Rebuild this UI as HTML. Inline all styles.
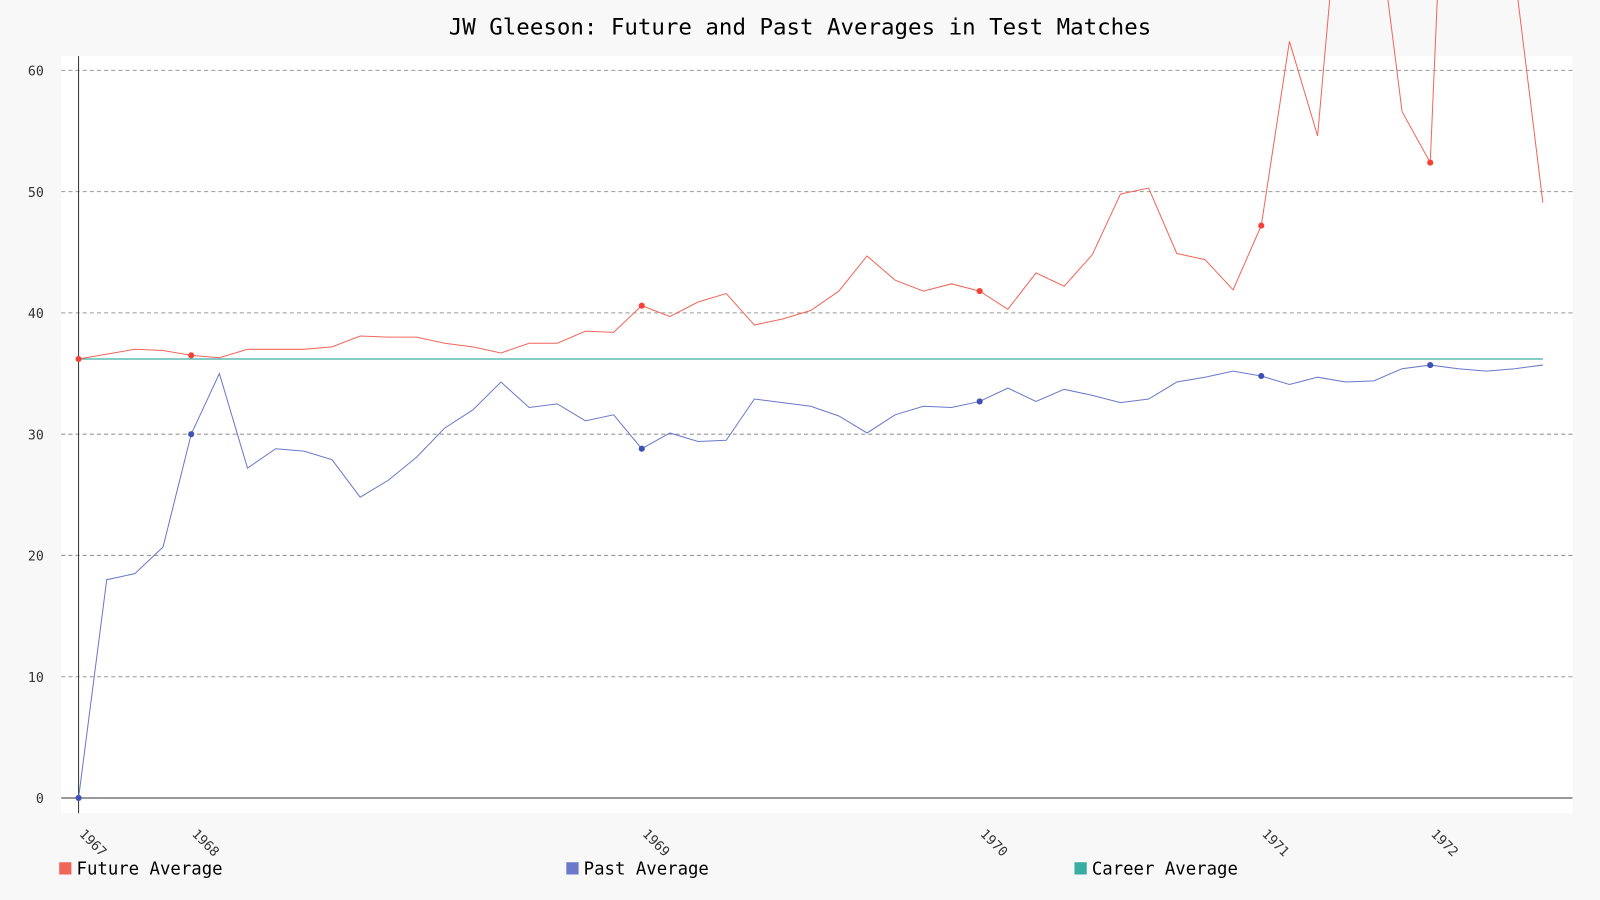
<!DOCTYPE html>
<html><head><meta charset="utf-8"><style>
html,body{margin:0;padding:0;background:#f8f8f8;}
svg{display:block;font-family:"DejaVu Sans Mono","Liberation Mono",monospace;}
</style></head><body>
<svg id="chart" width="1600" height="900" viewBox="0 0 1568 882" preserveAspectRatio="none">
<rect x="0" y="0" width="1568" height="882" fill="#f8f8f8"/>
<text x="784" y="34" text-anchor="middle" font-size="22" fill="#000">JW Gleeson: Future and Past Averages in Test Matches</text>
<rect x="60" y="55" width="1481" height="742" fill="#fff"/>
<g id="grid"></g>
<g id="series"></g>
<g id="legend">
<rect x="58" y="845" width="12" height="12" fill="#f0675a"/>
<text x="75" y="857" font-size="17">Future Average</text>
<rect x="555" y="845" width="12" height="12" fill="#6c78c9"/>
<text x="572" y="857" font-size="17">Past Average</text>
<rect x="1053" y="845" width="12" height="12" fill="#3aada2"/>
<text x="1070" y="857" font-size="17">Career Average</text>
</g>
</svg>
<script>
const yTicks=[0,10,20,30,40,50,60];
const yearLabels=["1967","1968","1969","1970","1971","1972"];
const yearIndex=[0,4,20,32,42,48];
const pastAvg=[0,18.0,18.5,20.7,30.0,35.0,27.2,28.8,28.6,27.9,24.8,26.2,28.1,30.5,32.0,34.3,32.2,32.5,31.1,31.6,28.8,30.1,29.4,29.5,32.9,32.6,32.3,31.5,30.1,31.6,32.3,32.2,32.7,33.8,32.7,33.7,33.2,32.6,32.9,34.3,34.7,35.2,34.8,34.1,34.7,34.3,34.4,35.4,35.7,35.4,35.2,35.4,35.7];
const futureAvg=[36.2,36.6,37.0,36.9,36.5,36.3,37.0,37.0,37.0,37.2,38.1,38.0,38.0,37.5,37.2,36.7,37.5,37.5,38.5,38.4,40.6,39.7,40.9,41.6,39.0,39.5,40.2,41.8,44.7,42.7,41.8,42.4,41.8,40.3,43.3,42.2,44.8,49.8,50.3,44.9,44.4,41.9,47.2,62.4,54.6,80.7,75.0,56.6,52.4,106,90,68,49.1];
const careerAvg=[36.2];
const NS="http://www.w3.org/2000/svg";
const X0=77,X1=1512,Y0=782,PER=(782-69)/60;
const n=pastAvg.length;
function xs(i){return X0+(X1-X0)*i/(n-1);}
function ys(v){return Y0-v*PER;}
function mk(tag,attrs,parent){const e=document.createElementNS(NS,tag);for(const k in attrs)e.setAttribute(k,attrs[k]);parent.appendChild(e);return e;}
const grid=document.getElementById('grid'),ser=document.getElementById('series');
yTicks.forEach(t=>{
  if(t>0){const l=mk('line',{x1:60,x2:1541,y1:ys(t),y2:ys(t),stroke:'#999','stroke-dasharray':'4,3','stroke-width':1},grid);
  
  }
  const tx=mk('text',{x:43,y:ys(t)+5,'text-anchor':'end','font-size':13,fill:'#333'},grid);tx.textContent=t;
  
  
});
const ax=mk('line',{x1:77,x2:77,y1:55,y2:797,stroke:'#333','stroke-width':1},grid);


const bx=mk('line',{x1:60,x2:1541,y1:Y0,y2:Y0,stroke:'#333','stroke-width':1},grid);


yearLabels.forEach((lab,k)=>{
  const x=xs(yearIndex[k]);
  const t=mk('text',{x:x,y:818,'font-size':13,fill:'#333',transform:`rotate(45 ${x} 818)`},grid);t.textContent=lab;
  
  
});
function line(data,color,name){
  const p=mk('polyline',{points:data.map((v,i)=>xs(i)+','+ys(v)).join(' '),fill:'none',stroke:color,'stroke-width':1},ser);
  
  
}
const cl=mk('line',{x1:xs(0),x2:xs(n-1),y1:ys(careerAvg[0]),y2:ys(careerAvg[0]),stroke:'#3aada2','stroke-width':1.2},ser);


line(futureAvg,'#f0675a','future-average');
line(pastAvg,'#6c78c9','past-average');
yearIndex.forEach(i=>{
  const a=mk('circle',{cx:xs(i),cy:ys(futureAvg[i]),r:3,fill:'#f44336'},ser);
  
  
  const b=mk('circle',{cx:xs(i),cy:ys(pastAvg[i]),r:3,fill:'#3f51b5'},ser);
  
  
});
</script>
</body></html>
